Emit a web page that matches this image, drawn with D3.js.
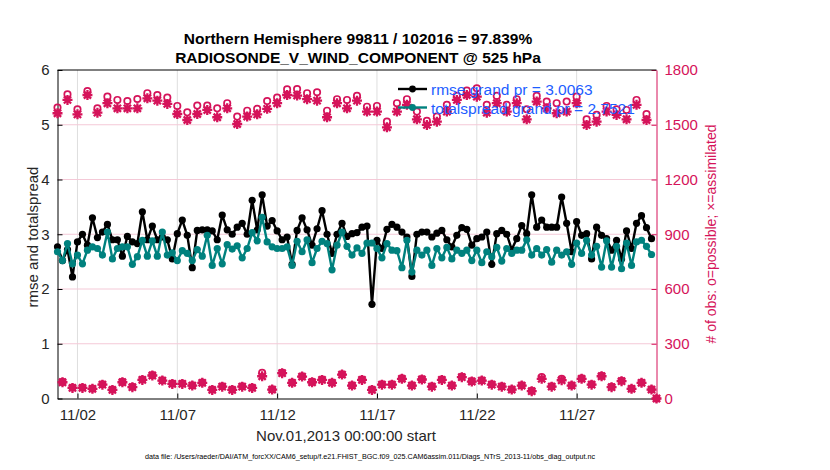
<!DOCTYPE html>
<html>
<head>
<meta charset="utf-8">
<script src="https://cdn.jsdelivr.net/npm/d3@7"></script>
<style>
  body { margin: 0; background: #fff; }
  svg { font-family: "Liberation Sans", Arial, Helvetica, sans-serif; }
</style>
</head>
<body>
<div id="chart"></div>
<script>
// 6-hourly bins starting Nov 01 2013 00Z
const startTime = new Date(Date.UTC(2013, 10, 1, 0));
const stepHours = 6;

const rmse = [
  2.77, 2.52, 2.72, 2.22, 2.86, 3.00, 2.80, 3.30, 2.94, 3.04,
  3.18, 2.90, 2.90, 2.60, 2.96, 2.86, 2.83, 3.41, 2.90, 3.15,
  2.90, 2.95, 2.90, 2.55, 3.01, 3.26, 2.98, 2.39, 3.07, 3.08,
  3.08, 3.06, 2.90, 3.35, 3.08, 3.00, 3.13, 3.20, 3.00, 3.62,
  3.08, 3.72, 3.15, 3.25, 3.06, 2.90, 2.95, 2.45, 3.07, 3.30,
  3.08, 2.80, 3.10, 3.43, 3.00, 2.65, 3.00, 3.20, 2.96, 3.01,
  3.03, 3.13, 3.15, 1.72, 2.89, 2.74, 3.09, 3.18, 3.13, 3.04,
  2.95, 2.23, 3.00, 3.04, 3.04, 2.95, 3.02, 3.07, 2.90, 2.77,
  2.98, 3.12, 3.09, 2.80, 2.92, 2.95, 3.04, 2.45, 3.01, 3.07,
  3.00, 2.72, 2.92, 3.16, 3.01, 3.72, 3.13, 3.26, 3.13, 3.13,
  3.13, 3.68, 3.20, 2.68, 3.23, 2.98, 3.01, 2.55, 3.13, 2.98,
  2.92, 2.71, 2.89, 2.55, 3.06, 2.74, 3.20, 3.34, 3.12, 2.92,
  null
];

const totalspread = [
  2.68, 2.52, 2.83, 2.46, 2.62, 2.46, 2.71, 2.77, 2.74, 2.62,
  3.04, 2.55, 2.74, 2.77, 2.77, 2.45, 2.59, 2.89, 2.60, 2.88,
  2.60, 3.04, 2.62, 2.66, 2.52, 2.70, 2.65, 2.52, 2.72, 2.60,
  2.98, 2.43, 2.74, 2.46, 2.81, 2.73, 2.79, 2.57, 2.74, 3.03,
  2.88, 3.31, 2.86, 2.77, 2.74, 2.74, 2.77, 2.43, 2.87, 2.68,
  2.90, 2.48, 2.74, 2.87, 2.83, 2.35, 2.80, 3.04, 2.78, 2.62,
  2.75, 2.65, 2.84, 2.84, 2.74, 2.57, 2.83, 2.71, 2.70, 2.39,
  2.89, 2.31, 2.71, 2.62, 2.71, 2.43, 2.74, 2.57, 2.76, 2.55,
  2.71, 2.65, 2.71, 2.52, 2.71, 2.48, 2.68, 2.59, 2.76, 2.51,
  2.74, 2.65, 2.71, 2.71, 2.90, 2.62, 2.74, 2.62, 2.72, 2.49,
  2.71, 2.62, 2.68, 2.45, 2.84, 2.65, 2.89, 2.62, 2.78, 2.40,
  2.88, 2.40, 2.78, 2.37, 2.84, 2.43, 2.86, 2.89, 2.78, 2.63,
  null
];

const nPossible = [
  1594, 91, 1667, 60, 1585, 60, 1685, 55, 1590, 78,
  1654, 49, 1636, 91, 1630, 64, 1641, 104, 1673, 128,
  1663, 100, 1649, 82, 1603, 82, 1568, 73, 1605, 88,
  1605, 49, 1590, 67, 1618, 49, 1545, 67, 1577, 60,
  1587, 141, 1630, 51, 1649, 141, 1694, 88, 1696, 122,
  1673, 91, 1678, 104, 1577, 88, 1640, 133, 1636, 73,
  1658, 104, 1599, 49, 1603, 78, 1517, 78, 1618, 110,
  1640, 73, 1572, 106, 1521, 67, 1545, 104, 1609, 73,
  1658, 119, 1687, 95, 1700, 100, 1609, 78, 1658, 67,
  1609, 51, 1640, 73, 1585, 42, 1658, 118, 1627, 67,
  1618, 108, 1627, 73, 1654, 110, 1530, 78, 1554, 124,
  1603, 64, 1585, 97, 1581, 55, 1636, 88, 1559, 51,
  0
];

const nAssimilated = [
  1563, 89, 1636, 58, 1557, 58, 1663, 53, 1566, 76,
  1618, 47, 1590, 89, 1590, 62, 1590, 102, 1645, 126,
  1632, 98, 1614, 80, 1559, 80, 1526, 71, 1559, 86,
  1581, 47, 1541, 65, 1590, 47, 1504, 65, 1545, 58,
  1557, 122, 1587, 49, 1618, 139, 1663, 86, 1660, 120,
  1640, 89, 1632, 102, 1541, 86, 1618, 131, 1590, 71,
  1632, 102, 1572, 47, 1572, 76, 1486, 76, 1572, 108,
  1609, 71, 1530, 104, 1499, 65, 1517, 102, 1572, 71,
  1636, 117, 1663, 93, 1654, 98, 1566, 76, 1618, 65,
  1572, 49, 1618, 71, 1530, 40, 1627, 108, 1590, 65,
  1563, 100, 1572, 71, 1618, 108, 1499, 76, 1517, 122,
  1572, 62, 1554, 95, 1530, 53, 1609, 86, 1526, 49,
  0
];

const leftTicks = [0, 1, 2, 3, 4, 5, 6];
const rightTicks = [0, 300, 600, 900, 1200, 1500, 1800];
const xTickDays = [2, 7, 12, 17, 22, 27];

const titleLines = [
  "Northern Hemisphere 99811 / 102016 = 97.839%",
  "RADIOSONDE_V_WIND_COMPONENT @ 525 hPa"
];
const legendLabels = ["rmse grand pr = 3.0063", "totalspread grand pr = 2.7521"];

const times = rmse.map((_, i) => d3.utcHour.offset(startTime, i * stepHours));

const width = 830, height = 470;
const margin = { top: 70, right: 173.5, bottom: 71.5, left: 57.5 };
const crimson = "#d5135a", teal = "#00817e", ink = "#262626";

const svg = d3.select("#chart").append("svg")
  .attr("width", width)
  .attr("height", height);

const x = d3.scaleUtc()
  .domain([startTime, new Date(Date.UTC(2013, 11, 1, 0))])
  .range([margin.left, width - margin.right]);
const y = d3.scaleLinear().domain([0, 6]).range([height - margin.bottom, margin.top]);
const yR = d3.scaleLinear().domain([0, 1800]).range([height - margin.bottom, margin.top]);

const x0 = margin.left, x1 = width - margin.right;
const y0 = height - margin.bottom, y1 = margin.top;

// grid
svg.append("g")
  .selectAll("line")
  .data(xTickDays.map(d => new Date(Date.UTC(2013, 10, d))))
  .join("line")
    .attr("x1", d => x(d)).attr("x2", d => x(d))
    .attr("y1", y0).attr("y2", y1)
    .attr("stroke", "#dedede").attr("stroke-width", 1);
svg.append("g")
  .selectAll("line")
  .data(rightTicks.slice(1, -1))
  .join("line")
    .attr("x1", x0).attr("x2", x1)
    .attr("y1", d => yR(d)).attr("y2", d => yR(d))
    .attr("stroke", "#f4c9d7").attr("stroke-width", 1);

// axes
svg.append("g")
  .attr("transform", `translate(0,${y0})`)
  .call(d3.axisBottom(x)
    .tickValues(xTickDays.map(d => new Date(Date.UTC(2013, 10, d))))
    .tickFormat(d3.utcFormat("%m/%d"))
    .tickSizeInner(-5).tickSizeOuter(0).tickPadding(11))
  .call(g => g.select(".domain").attr("stroke", "#000"))
  .call(g => g.selectAll(".tick line").attr("stroke", "#000"))
  .call(g => g.selectAll("text").attr("fill", ink).attr("font-size", 15));

svg.append("g")
  .attr("transform", `translate(${x0},0)`)
  .call(d3.axisLeft(y).tickValues(leftTicks).tickFormat(d3.format("d"))
    .tickSizeInner(-5).tickSizeOuter(0).tickPadding(8))
  .call(g => g.select(".domain").attr("stroke", "#000"))
  .call(g => g.selectAll(".tick line").attr("stroke", "#000"))
  .call(g => g.selectAll("text").attr("fill", ink).attr("font-size", 15));

svg.append("g")
  .attr("transform", `translate(${x1},0)`)
  .call(d3.axisRight(yR).tickValues(rightTicks).tickFormat(d3.format("d"))
    .tickSizeInner(-5).tickSizeOuter(0).tickPadding(8))
  .call(g => g.select(".domain").attr("stroke", crimson))
  .call(g => g.selectAll(".tick line").attr("stroke", crimson))
  .call(g => g.selectAll("text").attr("fill", crimson).attr("font-size", 15));

// top border
svg.append("line")
  .attr("x1", x0).attr("x2", x1).attr("y1", y1).attr("y2", y1)
  .attr("stroke", "#000");

// rmse and spread lines
const series = [
  { values: rmse, color: "#000" },
  { values: totalspread, color: teal }
];
series.forEach(s => {
  const pts = s.values.map((v, i) => ({ t: times[i], v })).filter(d => d.v != null);
  svg.append("path")
    .datum(pts)
    .attr("fill", "none")
    .attr("stroke", s.color)
    .attr("stroke-width", 2.4)
    .attr("stroke-linejoin", "round")
    .attr("d", d3.line().x(d => x(d.t)).y(d => y(d.v)));
  svg.append("g")
    .selectAll("circle")
    .data(pts)
    .join("circle")
      .attr("cx", d => x(d.t))
      .attr("cy", d => y(d.v))
      .attr("r", 3.6)
      .attr("fill", s.color);
});

// observation counts: o = possible, * = assimilated
function asterisk(cx, cy, r) {
  const a = r * 0.72;
  return `M${cx - r},${cy}L${cx + r},${cy}M${cx},${cy - r}L${cx},${cy + r}` +
    `M${cx - a},${cy - a}L${cx + a},${cy + a}M${cx - a},${cy + a}L${cx + a},${cy - a}`;
}
svg.append("g")
  .selectAll("circle")
  .data(nPossible.map((v, i) => ({ t: times[i], v })))
  .join("circle")
    .attr("cx", d => x(d.t))
    .attr("cy", d => yR(d.v))
    .attr("r", 3.2)
    .attr("fill", "none")
    .attr("stroke", crimson)
    .attr("stroke-width", 1.7);
svg.append("g")
  .selectAll("path")
  .data(nAssimilated.map((v, i) => ({ t: times[i], v })))
  .join("path")
    .attr("d", d => asterisk(x(d.t), yR(d.v), 5))
    .attr("stroke", crimson)
    .attr("stroke-width", 2.3)
    .attr("fill", "none");

// legend
const legend = svg.append("g");
legendLabels.forEach((lab, i) => {
  const ly = 89 + i * 18.5;
  const col = i === 0 ? "#000" : teal;
  legend.append("line")
    .attr("x1", 398).attr("x2", 427).attr("y1", ly).attr("y2", ly)
    .attr("stroke", col).attr("stroke-width", 2.4);
  legend.append("circle")
    .attr("cx", 412.5).attr("cy", ly).attr("r", 3.4).attr("fill", col);
  legend.append("text")
    .attr("x", 431).attr("y", ly + 6)
    .attr("font-size", 15.5)
    .attr("fill", "#1d5dff")
    .text(lab);
});

// titles and labels
svg.append("g")
  .selectAll("text")
  .data(titleLines)
  .join("text")
    .attr("x", 358)
    .attr("y", (d, i) => 44 + i * 19)
    .attr("text-anchor", "middle")
    .attr("font-weight", "bold")
    .attr("font-size", 15.5)
    .attr("fill", "#000")
    .text(d => d);

svg.append("text")
  .attr("transform", "translate(38,237) rotate(-90)")
  .attr("text-anchor", "middle")
  .attr("font-size", 15)
  .attr("fill", ink)
  .text("rmse and totalspread");

svg.append("text")
  .attr("transform", "translate(716,234) rotate(-90)")
  .attr("text-anchor", "middle")
  .attr("font-size", 14)
  .attr("fill", crimson)
  .text("# of obs: o=possible; \u00d7=assimilated");

svg.append("text")
  .attr("x", 346).attr("y", 441)
  .attr("text-anchor", "middle")
  .attr("font-size", 15)
  .attr("fill", ink)
  .text("Nov.01,2013 00:00:00 start");

svg.append("text")
  .attr("x", 145).attr("y", 459)
  .attr("font-size", 7.5)
  .attr("textLength", 450)
  .attr("lengthAdjust", "spacingAndGlyphs")
  .attr("fill", "#000")
  .text("data file: /Users/raeder/DAI/ATM_forcXX/CAM6_setup/f.e21.FHIST_BGC.f09_025.CAM6assim.011/Diags_NTrS_2013-11/obs_diag_output.nc");
</script>
</body>
</html>
